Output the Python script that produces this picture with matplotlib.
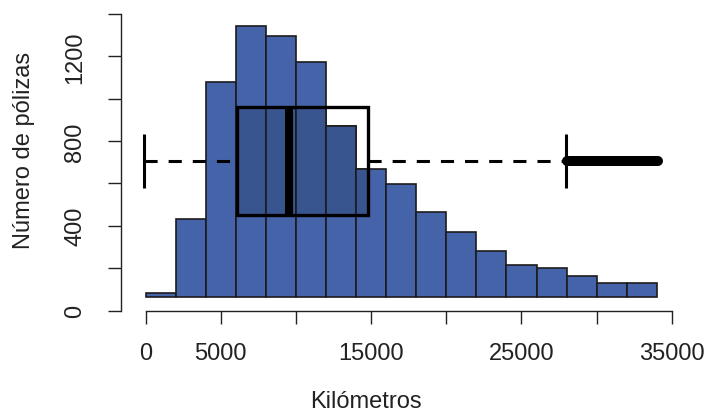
import matplotlib
matplotlib.use("Agg")
import matplotlib.pyplot as plt
from matplotlib.patches import Rectangle

plt.rcParams["font.family"] = ["Liberation Sans", "DejaVu Sans"]

# histogram: 2000 km bins, heights read on the y axis
bin_edges = list(range(0, 36000, 2000))
bar_tops = [83, 432, 1081, 1343, 1296, 1173, 871, 668, 597, 465,
            371, 281, 215, 201, 163, 130, 130]
bar_base = 64

# boxplot stats (km)
whisker_low = -100
q1 = 6060
median = 9520
q3 = 14810
whisker_high = 27960
outlier_min = 28000
outlier_max = 34050
box_center = 706
box_half = 257
cap_half = 126

x_ticks = [0, 5000, 10000, 15000, 20000, 25000, 30000, 35000]
x_labels = ["0", "5000", "", "15000", "", "25000", "", "35000"]
y_ticks = [0, 200, 400, 600, 800, 1000, 1200, 1400]
y_labels = ["0", "", "400", "", "800", "", "1200", ""]

BAR = "#4463A9"
BAR_DARK = "#39558F"
EDGE = "#1c1c1c"

fig = plt.figure(figsize=(7.08, 4.14), dpi=100)
ax = fig.add_axes([121.5 / 708, (414 - 311.5) / 414, (690 - 121.5) / 708, (311.5 - 5) / 414])
ax.set_xlim(-1596, 36204)
ax.set_ylim(0, 1447)

lefts = bin_edges[:-1]
widths = [b - a for a, b in zip(bin_edges[:-1], bin_edges[1:])]
heights = [t - bar_base for t in bar_tops]
ax.bar(lefts, heights, width=widths, bottom=bar_base, align="edge",
       color=BAR, edgecolor=EDGE, linewidth=1.2, zorder=2)

# box region: bars look darker inside the box
box = Rectangle((q1, box_center - box_half), q3 - q1, 2 * box_half,
                facecolor="none", edgecolor="black", linewidth=2.4, zorder=5)
ax.add_patch(box)
dark = ax.bar(lefts, heights, width=widths, bottom=bar_base, align="edge",
              color=BAR_DARK, edgecolor=EDGE, linewidth=1.2, zorder=3)
for p in dark:
    p.set_clip_path(box)

# whiskers
ax.plot([whisker_low, q1], [box_center, box_center], color="black", lw=2.2,
        dashes=[4.3, 3.6], zorder=4)
ax.plot([q3, whisker_high], [box_center, box_center], color="black", lw=2.2,
        dashes=[4.3, 3.6], zorder=4)
for xc in (whisker_low, whisker_high):
    ax.plot([xc, xc], [box_center - cap_half, box_center + cap_half],
            color="black", lw=2.2, solid_capstyle="butt", zorder=4)

# median
ax.plot([median, median], [box_center - box_half, box_center + box_half],
        color="black", lw=5.8, solid_capstyle="butt", zorder=6)

# outliers (dense points forming a thick band)
ax.plot([outlier_min, outlier_max], [box_center, box_center], color="black",
        lw=7.2, solid_capstyle="round", zorder=6)

for s in ("top", "right"):
    ax.spines[s].set_visible(False)
ax.spines["left"].set_bounds(0, 1400)
ax.spines["bottom"].set_bounds(0, 35000)
for s in ("left", "bottom"):
    ax.spines[s].set_linewidth(1.0)
    ax.spines[s].set_color("#222222")

ax.set_xticks(x_ticks)
ax.set_xticklabels(x_labels)
ax.set_yticks(y_ticks)
ax.set_yticklabels(y_labels, rotation=90, va="center")
ax.tick_params(axis="both", length=9.4, width=1.0, color="#222222",
               labelsize=17, labelcolor="#222222")
ax.tick_params(axis="x", pad=13.5)
ax.tick_params(axis="y", pad=16)

fig.text(366 / 708, 1 - 402 / 414, "Kilómetros", ha="center", va="center",
         fontsize=17, color="#222222")
fig.text(24 / 708, 1 - 150 / 414, "Número de pólizas", ha="center", va="center",
         rotation=90, fontsize=17, color="#222222")

fig.savefig("out.png", dpi=100)
